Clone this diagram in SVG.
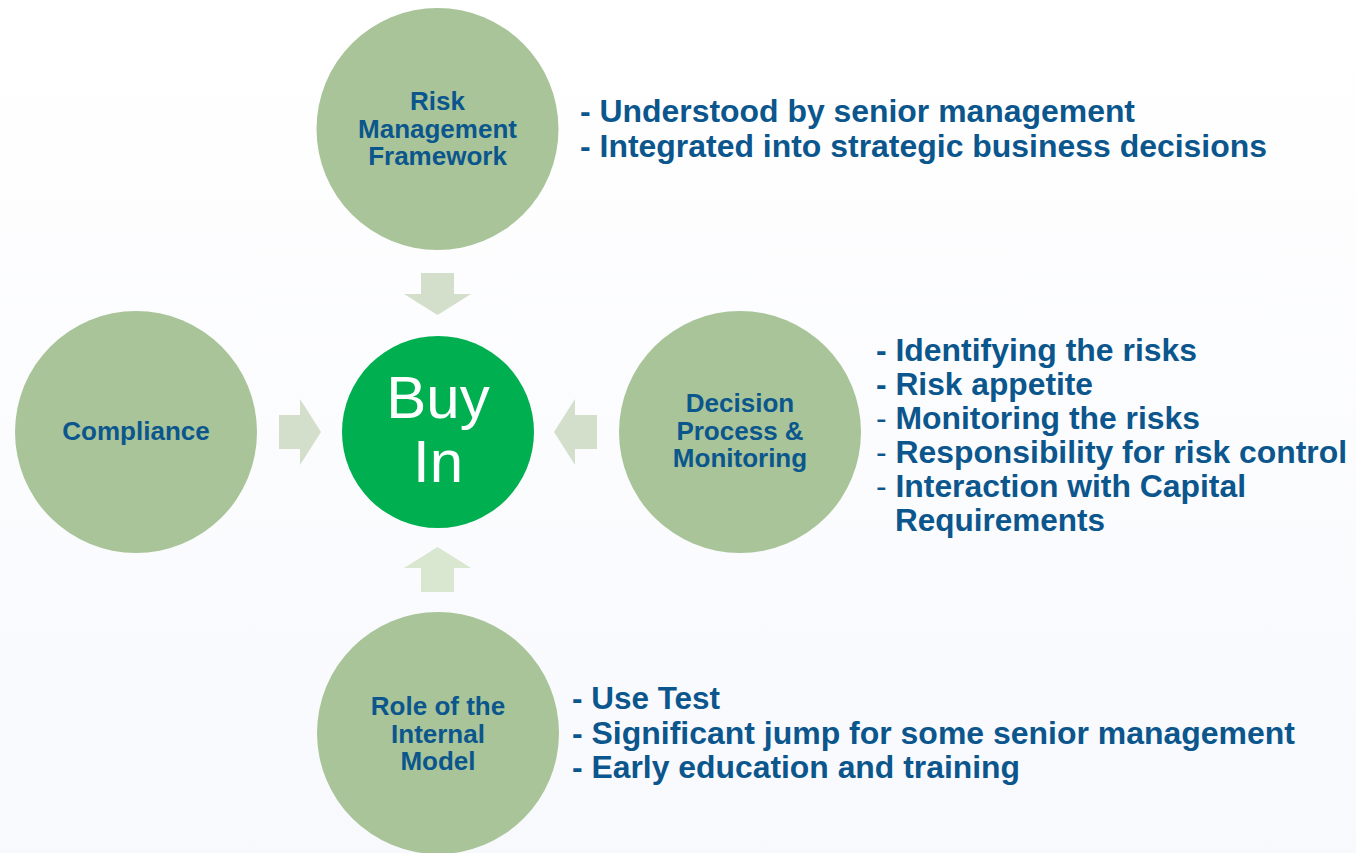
<svg xmlns="http://www.w3.org/2000/svg" width="1356" height="853" viewBox="0 0 1356 853">
<defs>
<style>
.c{fill:#a8c498}
.lbl{font-family:"Liberation Sans",Arial,sans-serif;font-weight:bold;font-size:26px;fill:#0b568c;text-anchor:middle}
.bl{font-family:"Liberation Sans",Arial,sans-serif;font-weight:bold;font-size:32px;fill:#0b568c}
.thin{font-weight:normal}
.arr{fill:#d3dfca}
</style>
<linearGradient id="bg" x1="0" y1="0" x2="0" y2="1">
<stop offset="0" stop-color="#ffffff"/>
<stop offset="1" stop-color="#f8f9fd"/>
</linearGradient>
</defs>
<rect width="1356" height="853" fill="url(#bg)"/>
<g id="connectors">
<polygon class="arr" points="421,273 454,273 454,294 471,294 437.5,315 404,294 421,294"/>
<polygon class="arr" points="279,415 300,415 300,399 321,432 300,465 300,449 279,449"/>
<polygon class="arr" points="597,415 575,415 575,399 554,432 575,465 575,449 597,449"/>
<polygon class="arr" style="fill:#d9e6d0" points="421,592 454,592 454,568 471,568 437.5,547 404,568 421,568"/>
</g>
<g id="risk-management-framework">
<circle class="c" cx="437.5" cy="129" r="121"/>
<text class="lbl" x="437.5" y="110">Risk</text>
<text class="lbl" x="437.5" y="138">Management</text>
<text class="lbl" x="437.5" y="165">Framework</text>
</g>
<g id="compliance">
<circle class="c" cx="136" cy="432" r="121"/>
<text class="lbl" x="136" y="440">Compliance</text>
</g>
<g id="buy-in">
<circle cx="438" cy="432" r="96" fill="#00b050"/>
<text x="438" y="418" font-family="Liberation Sans,Arial,sans-serif" font-size="60" fill="#ffffff" text-anchor="middle">Buy</text>
<text x="438" y="482" font-family="Liberation Sans,Arial,sans-serif" font-size="60" fill="#ffffff" text-anchor="middle">In</text>
</g>
<g id="decision-process">
<circle class="c" cx="740" cy="432" r="121"/>
<text class="lbl" x="740" y="412">Decision</text>
<text class="lbl" x="740" y="440">Process &amp;</text>
<text class="lbl" x="740" y="467">Monitoring</text>
</g>
<g id="role-internal-model">
<circle class="c" cx="438" cy="733" r="121"/>
<text class="lbl" x="438" y="715">Role of the</text>
<text class="lbl" x="438" y="743">Internal</text>
<text class="lbl" x="438" y="770">Model</text>
</g>
<g id="notes-top">
<text class="bl" x="580" y="122" textLength="555" lengthAdjust="spacingAndGlyphs">- Understood by senior management</text>
<text class="bl" x="580" y="157" textLength="687" lengthAdjust="spacingAndGlyphs">- Integrated into strategic business decisions</text>
</g>
<g id="notes-right">
<text class="bl" x="876" y="361" textLength="321" lengthAdjust="spacingAndGlyphs">- Identifying the risks</text>
<text class="bl" x="876" y="395" textLength="217" lengthAdjust="spacingAndGlyphs">- Risk appetite</text>
<text class="bl" x="876" y="429" textLength="324" lengthAdjust="spacingAndGlyphs"><tspan class="thin">-</tspan> Monitoring the risks</text>
<text class="bl" x="876" y="463" textLength="471" lengthAdjust="spacingAndGlyphs"><tspan class="thin">-</tspan> Responsibility for risk control</text>
<text class="bl" x="876" y="497" textLength="370" lengthAdjust="spacingAndGlyphs"><tspan class="thin">-</tspan> Interaction with Capital</text>
<text class="bl" x="895" y="531" textLength="210" lengthAdjust="spacingAndGlyphs">Requirements</text>
</g>
<g id="notes-bottom">
<text class="bl" x="572" y="709" textLength="148" lengthAdjust="spacingAndGlyphs">- Use Test</text>
<text class="bl" x="572" y="744" textLength="723" lengthAdjust="spacingAndGlyphs">- Significant jump for some senior management</text>
<text class="bl" x="572" y="778" textLength="448" lengthAdjust="spacingAndGlyphs">- Early education and training</text>
</g>
</svg>
